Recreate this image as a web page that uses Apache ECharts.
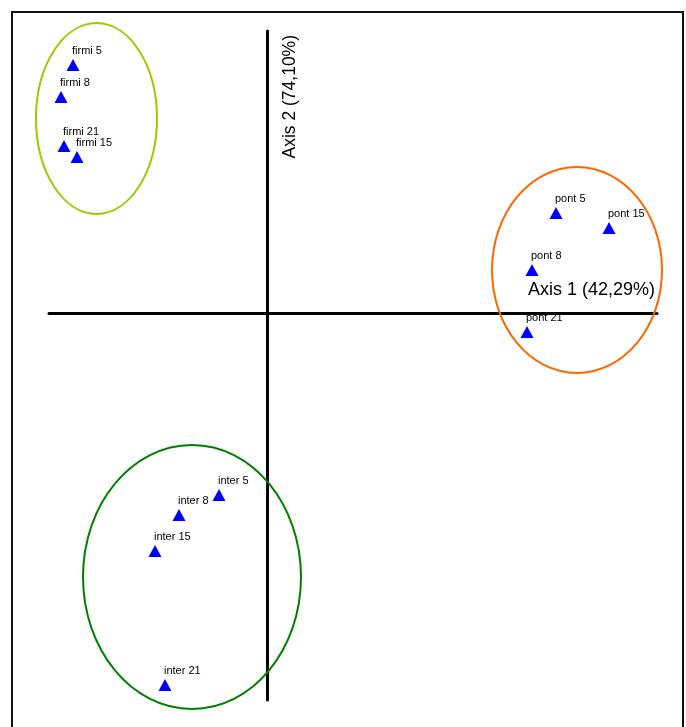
<!DOCTYPE html>
<html>
<head>
<meta charset="utf-8">
<script src="https://cdn.jsdelivr.net/npm/echarts@6/dist/echarts.min.js"></script>
<style>
  html, body { margin: 0; padding: 0; background: #fff; }
  #chart { width: 686px; height: 727px; }
</style>
</head>
<body>
<div id="chart"></div>
<script>
// Sample scores on the first two axes
const sampleNames = ['firmi 5', 'firmi 8', 'firmi 21', 'firmi 15',
                     'pont 5', 'pont 15', 'pont 8', 'pont 21',
                     'inter 5', 'inter 8', 'inter 15', 'inter 21'];
const axis1Scores = [-1.94, -2.06, -2.03, -1.90,
                      2.89,  3.42,  2.65,  2.60,
                     -0.48, -0.88, -1.12, -1.02];
const axis2Scores = [ 2.48,  2.16,  1.67,  1.56,
                      1.00,  0.85,  0.43, -0.19,
                     -1.82, -2.02, -2.38, -3.72];

// Group envelopes (centre and semi-axes in score units)
const groupNames   = ['firmi', 'pont', 'inter'];
const groupCx      = [-1.705, 3.10, -0.75];
const groupCy      = [ 1.945, 0.43, -2.64];
const groupRx      = [ 0.605, 0.85,  1.09];
const groupRy      = [ 0.955, 1.03,  1.32];
const groupColors  = ['#99cc00', '#ff6600', '#008000'];

const axis1Title = 'Axis 1 (42,29%)';
const axis2Title = 'Axis 2 (74,10%)';

const pointData = sampleNames.map((n, i) => ({ name: n, value: [axis1Scores[i], axis2Scores[i]] }));
const envelopeData = groupNames.map((g, i) => ({ name: g, value: [groupCx[i], groupCy[i], groupRx[i], groupRy[i]] }));

const chart = echarts.init(document.getElementById('chart'));
chart.setOption({
  animation: false,
  backgroundColor: '#ffffff',
  textStyle: { fontFamily: 'Liberation Sans, Arial, sans-serif' },
  graphic: [{
    type: 'rect',
    shape: { x: 12, y: 12, width: 671, height: 740 },
    style: { fill: 'none', stroke: '#111', lineWidth: 2 },
    silent: true
  }],
  grid: { left: 49, right: 29, top: 31, bottom: 27 },
  xAxis: {
    type: 'value', min: -2.18, max: 3.90,
    axisLine: { onZero: true, lineStyle: { color: '#000', width: 3 } },
    axisTick: { show: false }, axisLabel: { show: false }, splitLine: { show: false },
    name: axis1Title, nameLocation: 'end', nameGap: -2,
    nameTextStyle: { fontSize: 18, color: '#000', align: 'right', verticalAlign: 'bottom', padding: [0, 0, 14, 0] }
  },
  yAxis: {
    type: 'value', min: -3.87, max: 2.82,
    axisLine: { onZero: true, lineStyle: { color: '#000', width: 3 } },
    axisTick: { show: false }, axisLabel: { show: false }, splitLine: { show: false },
    name: axis2Title, nameLocation: 'end', nameGap: -4, nameRotate: 90,
    nameTextStyle: { fontSize: 17.5, color: '#000', align: 'right', verticalAlign: 'top', padding: [14, 0, 0, 0] }
  },
  series: [
    {
      type: 'custom',
      clip: false,
      silent: true,
      data: envelopeData,
      renderItem: function (params, api) {
        const c = api.coord([api.value(0), api.value(1)]);
        const s = api.size([api.value(2), api.value(3)]);
        return {
          type: 'ellipse',
          shape: { cx: c[0], cy: c[1], rx: s[0], ry: s[1] },
          style: { fill: 'none', stroke: groupColors[params.dataIndex], lineWidth: 2 }
        };
      },
      z: 1
    },
    {
      type: 'scatter',
      symbol: 'triangle',
      symbolSize: [13, 12],
      itemStyle: { color: '#0000ff', opacity: 1 },
      data: pointData,
      label: {
        show: true,
        formatter: '{b}',
        position: 'top',
        align: 'left',
        distance: 3,
        offset: [-1, 0],
        fontSize: 11,
        color: '#000'
      },
      z: 3
    }
  ]
});
</script>
</body>
</html>
